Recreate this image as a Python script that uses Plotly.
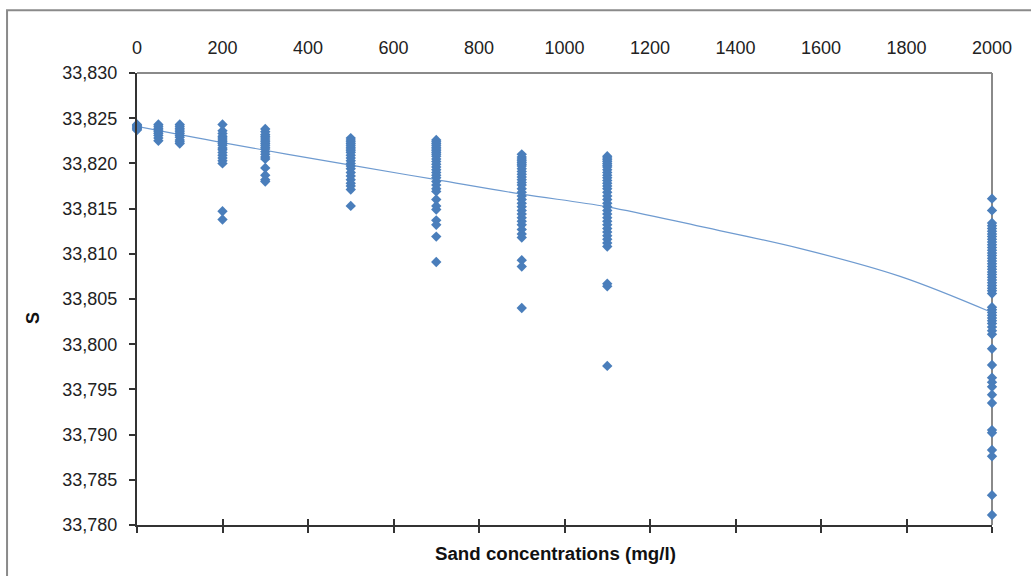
import plotly.graph_objects as go

# ---------------- data ----------------
concentrations = [0, 50, 100, 200, 300, 500, 700, 900, 1100, 2000]

s_0 = [33.8243, 33.8242, 33.8241, 33.8240, 33.8239, 33.8238, 33.8237]
s_50 = [33.8243, 33.8241, 33.8239, 33.8237, 33.8235, 33.8233, 33.8231, 33.8228, 33.8225]
s_100 = [33.8243, 33.8241, 33.8239, 33.8237, 33.8235, 33.8233, 33.8231, 33.8229,
         33.8226, 33.8224, 33.8222]
s_200 = [33.8243, 33.8236, 33.8233, 33.8230, 33.8228, 33.8226, 33.8224, 33.8222,
         33.8220, 33.8217, 33.8215, 33.8212, 33.8209, 33.8206, 33.8203, 33.8200,
         33.8147, 33.8138]
s_300 = [33.8238, 33.8235, 33.8232, 33.8230, 33.8228, 33.8226, 33.8224, 33.8222,
         33.8220, 33.8218, 33.8216, 33.8213, 33.8210, 33.8207, 33.8205, 33.8195,
         33.8187, 33.8182, 33.8180]
s_500 = [33.8228, 33.8226, 33.8224, 33.8222, 33.8220, 33.8218, 33.8216, 33.8214,
         33.8212, 33.8209, 33.8206, 33.8203, 33.8200, 33.8197, 33.8194, 33.8190,
         33.8186, 33.8182, 33.8178, 33.8175, 33.8171, 33.8153]
s_700 = [33.8226, 33.8224, 33.8222, 33.8220, 33.8218, 33.8216, 33.8214, 33.8212,
         33.8210, 33.8208, 33.8205, 33.8202, 33.8199, 33.8196, 33.8193, 33.8190,
         33.8187, 33.8184, 33.8180, 33.8176, 33.8172, 33.8169, 33.8160, 33.8153,
         33.8149, 33.8137, 33.8132, 33.8119, 33.8091]
s_900 = [33.8210, 33.8207, 33.8205, 33.8203, 33.8201, 33.8199, 33.8197, 33.8194,
         33.8191, 33.8188, 33.8185, 33.8182, 33.8179, 33.8176, 33.8172, 33.8168,
         33.8164, 33.8160, 33.8156, 33.8152, 33.8148, 33.8144, 33.8140, 33.8136,
         33.8132, 33.8127, 33.8122, 33.8118, 33.8093, 33.8086, 33.8040]
s_1100 = [33.8208, 33.8206, 33.8204, 33.8202, 33.8200, 33.8198, 33.8196, 33.8193,
          33.8190, 33.8187, 33.8184, 33.8181, 33.8178, 33.8175, 33.8172, 33.8168,
          33.8164, 33.8160, 33.8156, 33.8152, 33.8148, 33.8144, 33.8140, 33.8136,
          33.8132, 33.8128, 33.8124, 33.8120, 33.8116, 33.8112, 33.8108, 33.8067,
          33.8064, 33.7976]
s_2000 = [33.8161, 33.8148, 33.8134, 33.8131, 33.8128, 33.8125, 33.8122, 33.8119,
          33.8116, 33.8113, 33.8110, 33.8107, 33.8104, 33.8101, 33.8098, 33.8095,
          33.8092, 33.8089, 33.8086, 33.8083, 33.8080, 33.8077, 33.8074, 33.8071,
          33.8068, 33.8065, 33.8062, 33.8059, 33.8056, 33.8041, 33.8038, 33.8035,
          33.8032, 33.8029, 33.8026, 33.8023, 33.8019, 33.8015, 33.8011, 33.7995,
          33.7977, 33.7963, 33.7958, 33.7953, 33.7944, 33.7935, 33.7905, 33.7902,
          33.7883, 33.7876, 33.7833, 33.7811]

groups = [s_0, s_50, s_100, s_200, s_300, s_500, s_700, s_900, s_1100, s_2000]

# trend curve
trend_x = [0, 200, 500, 700, 900, 1100, 1320, 1550, 1785, 2000]
trend_s = [33.8241, 33.8223, 33.8198, 33.8182, 33.8166, 33.8152, 33.8130,
           33.8106, 33.8075, 33.8035]

x_tick_vals = [0, 200, 400, 600, 800, 1000, 1200, 1400, 1600, 1800, 2000]
x_tick_labels = ["0", "200", "400", "600", "800", "1000", "1200", "1400",
                 "1600", "1800", "2000"]
y_tick_vals = [33.780, 33.785, 33.790, 33.795, 33.800, 33.805, 33.810,
               33.815, 33.820, 33.825, 33.830]
y_tick_labels = ["33,780", "33,785", "33,790", "33,795", "33,800", "33,805",
                 "33,810", "33,815", "33,820", "33,825", "33,830"]

# ---------------- figure ----------------
xs, ys = [], []
for c, g in zip(concentrations, groups):
    xs.extend([c] * len(g))
    ys.extend(g)

FONT = "Liberation Sans, Arial, sans-serif"
fig = go.Figure()

fig.add_trace(go.Scatter(
    x=trend_x, y=trend_s, mode="lines",
    line=dict(color="#6f9bd0", width=1.2, shape="spline", smoothing=1.0),
    hoverinfo="skip", showlegend=False, cliponaxis=False))

fig.add_trace(go.Scatter(
    x=xs, y=ys, mode="markers",
    marker=dict(symbol="diamond", size=8, color="#4a7ebb", line=dict(width=0)),
    showlegend=False, cliponaxis=False))

# invisible traces to anchor the extra axes
fig.add_trace(go.Scatter(x=[0], y=[33.80], xaxis="x2", mode="markers",
                         marker=dict(opacity=0), showlegend=False, hoverinfo="skip"))
fig.add_trace(go.Scatter(x=[0], y=[33.80], xaxis="x3", mode="markers",
                         marker=dict(opacity=0), showlegend=False, hoverinfo="skip"))

axis_font = dict(family=FONT, size=18, color="#222222")

fig.update_layout(
    width=1031, height=576,
    margin=dict(l=137, r=39, t=73, b=51),
    paper_bgcolor="white", plot_bgcolor="white",
    showlegend=False,
    xaxis=dict(range=[0, 2000], tickvals=x_tick_vals, showticklabels=False,
               ticks="outside", ticklen=6, tickwidth=1.5, tickcolor="#333333",
               showline=True, linecolor="#333333", linewidth=2,
               showgrid=False, zeroline=False, fixedrange=True),
    xaxis2=dict(range=[0, 2000], overlaying="x", side="top", anchor="y",
                tickvals=x_tick_vals, ticktext=x_tick_labels,
                ticks="outside", ticklen=11, tickcolor="rgba(0,0,0,0)",
                showline=False, showgrid=False, zeroline=False,
                tickfont=axis_font),
    xaxis3=dict(range=[0, 2000], overlaying="x", side="bottom", anchor="y",
                tickvals=x_tick_vals, showticklabels=False,
                ticks="inside", ticklen=6, tickwidth=1.5, tickcolor="#333333",
                showline=False, showgrid=False, zeroline=False),
    yaxis=dict(range=[33.780, 33.830], tickvals=y_tick_vals, ticktext=y_tick_labels,
               ticks="outside", ticklen=6, tickwidth=1.5, tickcolor="#333333",
               ticklabelstandoff=8,
               showline=True, linecolor="#333333", linewidth=2,
               showgrid=False, zeroline=False, tickfont=axis_font),
    annotations=[
        dict(text="<b>Sand concentrations (mg/l)</b>", xref="paper", yref="paper",
             x=0.49, y=-0.062, xanchor="center", yanchor="middle", showarrow=False,
             font=dict(family=FONT, size=18.7, color="#111111")),
        dict(text="<b>S</b>", xref="paper", yref="paper",
             x=-0.1216, y=0.458, xanchor="center", yanchor="middle", showarrow=False,
             textangle=-90, font=dict(family=FONT, size=18, color="#111111")),
    ],
    shapes=[
        # top and right plot frame (grey)
        dict(type="line", xref="paper", yref="paper", x0=0, x1=1, y0=1, y1=1,
             line=dict(color="#8a8a8a", width=2)),
        dict(type="line", xref="paper", yref="paper", x0=1, x1=1, y0=0, y1=1,
             line=dict(color="#8a8a8a", width=2), layer="below"),
        # outer chart border
        dict(type="rect", xref="paper", yref="paper", x0=-0.152, x1=1.1,
             y0=-0.2, y1=1.139, line=dict(color="#8a8a8a", width=2)),
    ],
)

fig.write_html("out.html")
